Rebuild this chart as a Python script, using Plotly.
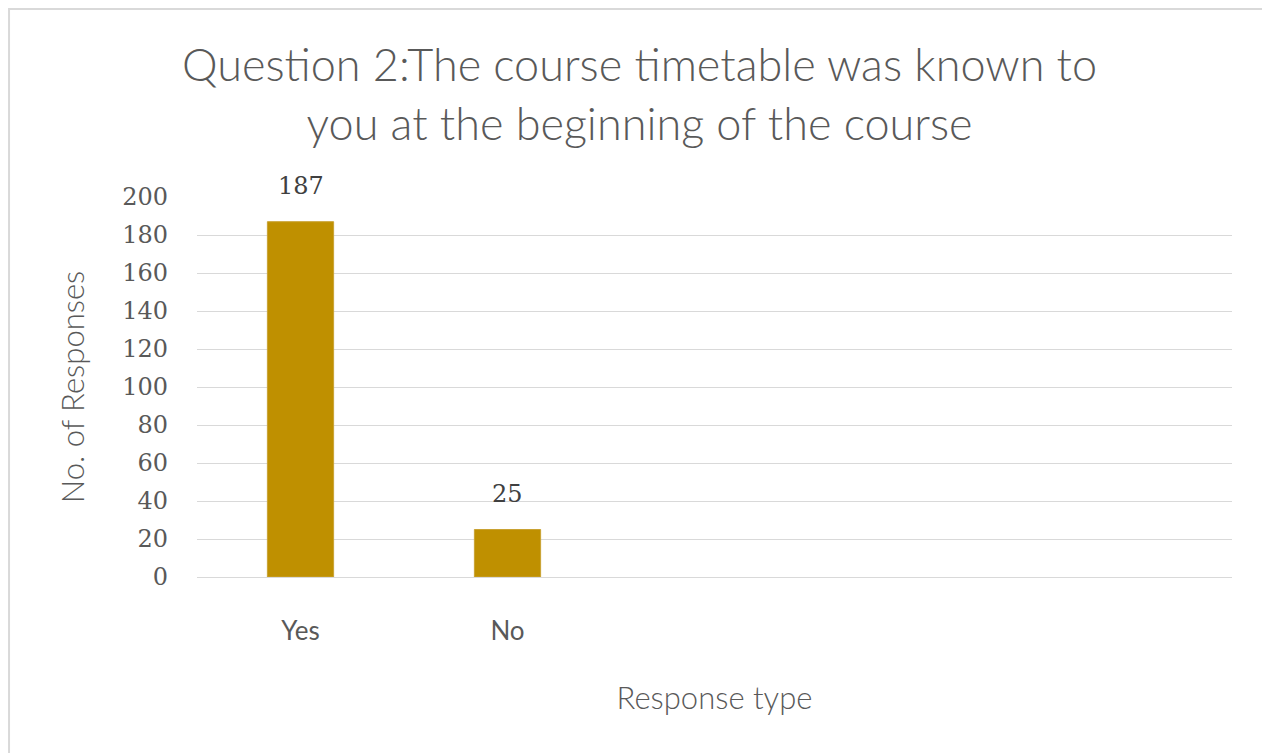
import plotly.graph_objects as go

# survey answers
categories = ["Yes", "No"]
responses = [187, 25]
y_ticks = [0, 20, 40, 60, 80, 100, 120, 140, 160, 180, 200]

GRID = "#D9D9D9"
TEXT = "#595959"

fig = go.Figure()

fig.add_trace(go.Bar(
    x=categories,
    y=responses,
    width=0.32,
    marker=dict(color="#BF9000", line=dict(color="#C9A233", width=1)),
    hoverinfo="x+y",
))

# data labels sit a bit above the bars, Excel style
for cat, val in zip(categories, responses):
    fig.add_annotation(
        x=cat, y=val, text=str(val), showarrow=False,
        yanchor="bottom", yshift=20,
        font=dict(family="DejaVu Serif", size=24, color="#404040"),
    )

# chart title as an annotation, centred on the whole chart not the plot area
fig.add_annotation(
    text="Question 2:The course timetable was known to<br>you at the beginning of the course",
    xref="paper", yref="paper", x=0.428, y=1.272,
    xanchor="center", yanchor="middle", showarrow=False,
    font=dict(family="Lato", size=45, color=TEXT, weight=300),
)

# thin frame round the whole chart
fig.add_shape(
    type="rect", xref="paper", yref="paper",
    x0=-0.1816, x1=1.0348, y0=-0.47, y1=1.4947,
    line=dict(color=GRID, width=2), fillcolor="rgba(0,0,0,0)", layer="below",
)

fig.update_layout(
    width=1262, height=745,
    margin=dict(l=189, r=38, t=189, b=176),
    paper_bgcolor="white",
    plot_bgcolor="white",
    showlegend=False,
    xaxis=dict(
        type="category",
        categoryarray=categories,
        range=[-0.5, 4.5],
        showgrid=False,
        showline=False,
        ticks="",
        ticklabelstandoff=36,
        tickfont=dict(family="Lato", size=26, color=TEXT),
        title=dict(text="Response type", standoff=42,
                   font=dict(family="Lato", size=31, color=TEXT, weight=300)),
    ),
    yaxis=dict(
        range=[0, 200],
        tickvals=y_ticks,
        showgrid=True,
        gridcolor=GRID,
        gridwidth=1,
        zeroline=True,
        zerolinecolor=GRID,
        zerolinewidth=1,
        ticks="",
        ticklabelstandoff=28,
        tickfont=dict(family="DejaVu Serif", size=24, color=TEXT),
        title=dict(text="No. of Responses", standoff=28,
                   font=dict(family="Lato", size=31, color=TEXT, weight=300)),
    ),
)

fig.write_html("out.html")
